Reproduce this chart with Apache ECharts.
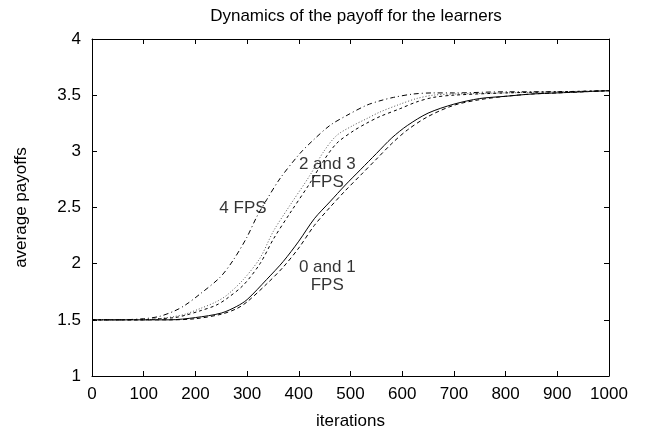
<!DOCTYPE html>
<html>
<head>
<meta charset="utf-8">
<script src="https://cdn.jsdelivr.net/npm/echarts@6/dist/echarts.min.js"></script>
<style>html,body{margin:0;padding:0;background:#fff}#c{width:646px;height:435px}</style>
</head>
<body>
<div id="c"></div>
<script>
// ---- data ----
const xTicks = [0,100,200,300,400,500,600,700,800,900,1000];
const yTicks = [1,1.5,2,2.5,3,3.5,4];

const x01 = [0,50,100,150,200,250,280,300,338,370,400,430,460,490,520,550,580,610,650,700,750,800,850,900,950,1000];
const fps0 = [1.50,1.50,1.50,1.50,1.52,1.56,1.62,1.68,1.86,2.02,2.20,2.40,2.55,2.70,2.84,2.98,3.12,3.23,3.34,3.42,3.47,3.49,3.51,3.52,3.53,3.54];
const fps1 = [1.50,1.50,1.50,1.50,1.51,1.55,1.60,1.66,1.82,1.97,2.14,2.34,2.50,2.65,2.79,2.93,3.07,3.19,3.31,3.41,3.46,3.49,3.51,3.52,3.53,3.54];

const x23 = [0,50,100,130,160,180,209,240,261,293,325,351,383,422,447,473,505,531,557,596,628,660,700,800,900,1000];
const fps2 = [1.50,1.50,1.50,1.51,1.53,1.55,1.60,1.66,1.72,1.86,2.05,2.29,2.52,2.79,2.99,3.14,3.23,3.29,3.35,3.42,3.47,3.50,3.51,3.52,3.53,3.54];
const fps3 = [1.50,1.50,1.50,1.51,1.52,1.54,1.58,1.63,1.69,1.81,2.00,2.22,2.45,2.72,2.91,3.07,3.18,3.25,3.31,3.38,3.44,3.48,3.50,3.52,3.53,3.54];

const x4 = [0,50,100,130,160,180,209,248,273,299,319,338,364,402,428,460,493,531,557,583,621,660,700,800,900,1000];
const fps4 = [1.50,1.50,1.51,1.53,1.58,1.63,1.73,1.88,2.03,2.23,2.42,2.57,2.76,2.98,3.10,3.23,3.32,3.41,3.45,3.48,3.51,3.52,3.52,3.53,3.53,3.54];

// annotation texts and their data positions
const noteTexts = ['4 FPS', '2 and 3\nFPS', '0 and 1\nFPS'];
const noteX = [292, 455, 455];
const noteY = [2.49, 2.80, 1.89];

const titleText = 'Dynamics of the payoff for the learners';
const xName = 'iterations';
const yName = 'average payoffs';
// --------------------------------------

const FONT = '"Liberation Sans", Arial, Helvetica, sans-serif';
const FS = 17;
const zip = (xs, ys) => xs.map((x, i) => [x, ys[i]]);

const chart = echarts.init(document.getElementById('c'), null, {renderer: 'canvas'});

function lineSeries(name, xs, ys, type, color) {
  return {
    name: name, type: 'line', data: zip(xs, ys), showSymbol: false, symbol: 'none',
    smooth: 0.3, xAxisIndex: 0, yAxisIndex: 0, silent: true,
    lineStyle: {color: color || '#000', width: 1, type: type},
    z: 3
  };
}

const axisCommon = {
  axisLine: {show: true, onZero: false, lineStyle: {color: '#000', width: 1}},
  axisTick: {show: true, inside: true, length: 5, lineStyle: {color: '#000', width: 1}},
  splitLine: {show: false}
};

chart.setOption({
  animation: false,
  backgroundColor: '#fff',
  textStyle: {fontFamily: FONT, color: '#000'},
  title: {
    text: titleText, left: 351, top: 3, textAlign: 'center',
    textStyle: {fontFamily: FONT, fontSize: FS, fontWeight: 'normal', color: '#000'}
  },
  grid: {left: 92, right: 37, top: 39, bottom: 56, containLabel: false},
  xAxis: [
    Object.assign({}, axisCommon, {
      type: 'value', min: 0, max: 1000, interval: 100, position: 'bottom',
      name: xName, nameLocation: 'middle', nameGap: 37,
      nameTextStyle: {fontFamily: FONT, fontSize: FS, color: '#000'},
      axisLabel: {show: true, margin: 10, fontFamily: FONT, fontSize: FS, color: '#000', formatter: v => String(v)}
    }),
    Object.assign({}, axisCommon, {
      type: 'value', min: 0, max: 1000, interval: 100, position: 'top',
      axisLabel: {show: false}
    })
  ],
  yAxis: [
    Object.assign({}, axisCommon, {
      type: 'value', min: 1, max: 4, interval: 0.5, position: 'left',
      name: yName, nameLocation: 'middle', nameGap: 62, nameRotate: 90,
      nameTextStyle: {fontFamily: FONT, fontSize: FS, color: '#000'},
      axisLabel: {show: true, margin: 11, fontFamily: FONT, fontSize: FS, color: '#000', formatter: v => String(v)}
    }),
    Object.assign({}, axisCommon, {
      type: 'value', min: 1, max: 4, interval: 0.5, position: 'right',
      axisLabel: {show: false}
    })
  ],
  series: [
    lineSeries('0 FPS', x01, fps0, 'solid', '#000'),
    lineSeries('1 FPS', x01, fps1, [4, 3], '#000'),
    lineSeries('2 FPS', x23, fps2, [1, 2], '#555'),
    lineSeries('3 FPS', x23, fps3, [3, 3], '#000'),
    lineSeries('4 FPS', x4, fps4, [5, 3, 1, 3], '#000'),
    {
      type: 'scatter', silent: true, symbolSize: 1,
      itemStyle: {color: 'rgba(0,0,0,0)'},
      data: noteX.map((x, i) => ({value: [x, noteY[i]], name: noteTexts[i]})),
      label: {
        show: true, position: 'inside', formatter: p => p.name,
        fontFamily: FONT, fontSize: FS, color: '#000', lineHeight: 18, align: 'center'
      },
      z: 2
    }
  ]
});
</script>
</body>
</html>
